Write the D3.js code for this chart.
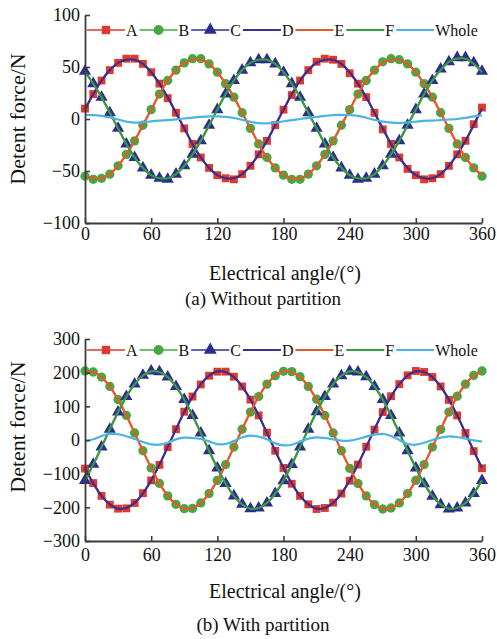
<!DOCTYPE html>
<html>
<head>
<meta charset="utf-8">
<script src="https://cdn.jsdelivr.net/npm/d3@7"></script>
<style>
  html, body { margin: 0; padding: 0; background: #fff; }
  svg { display: block; font-family: "Liberation Serif", "Times New Roman", serif; }
</style>
</head>
<body>
<svg id="chart" width="497" height="639"></svg>
<script>
// Electrical angle samples (degrees)
const angleDeg = [0,7.5,15,22.5,30,37.5,45,52.5,60,67.5,75,82.5,90,97.5,105,112.5,120,127.5,135,142.5,150,157.5,165,172.5,180,187.5,195,202.5,210,217.5,225,232.5,240,247.5,255,262.5,270,277.5,285,292.5,300,307.5,315,322.5,330,337.5,345,352.5,360];

// (a) Without partition — detent force per module (N)
const topA = [10,24,37,47,54,58,58,53,45,34,20,6,-9,-24,-37,-47,-54,-57,-58,-53,-45,-34,-21,-6, 9,23,37,47,55,58,57,53,44,34,21,6,-10,-24,-37,-48,-54,-58,-57,-53,-45,-34,-21,-5, 11];
const topB = [-55,-58,-57,-53,-45,-34,-21,-6,9,24,37,47,54,58,58,53,45,34,21,6,-9,-24,-37,-47, -54,-58,-58,-53,-45,-34,-21,-6,9,24,37,47,55,58,57,53,45,34,21,6,-9,-24,-37,-47, -55];
const topC = [46,34,21,6,-9,-24,-37,-47,-54,-57,-58,-53,-45,-34,-21,-6,9,24,37,47,54,57,57,53, 45,34,21,6,-9,-24,-37,-47,-54,-58,-57,-53,-45,-34,-21,-6,9,24,37,48,55,59,59,54, 46];
const topD = [9,24,37,47,54,57,57,53,45,34,21,6,-9,-24,-37,-47,-54,-57,-57,-53,-45,-34,-21,-6, 9,24,37,47,54,57,57,53,45,34,21,6,-9,-24,-37,-47,-54,-57,-57,-53,-45,-34,-21,-6, 10];
const topE = [-54,-57,-57,-53,-45,-34,-21,-6,9,24,37,47,54,57,57,53,45,34,21,6,-9,-24,-37,-47, -54,-57,-57,-53,-45,-34,-21,-6,9,24,37,47,54,57,57,53,45,34,21,6,-9,-24,-37,-47, -54];
const topF = [45,34,21,6,-9,-24,-37,-47,-54,-57,-57,-53,-45,-34,-21,-6,9,24,37,47,54,57,57,53, 45,34,21,6,-9,-24,-37,-47,-54,-57,-57,-53,-45,-34,-21,-6,9,24,37,47,55,58,58,53, 45];
const topWhole = [4,3.8,3,1.5,-0.5,-2.5,-3.5,-3.2,-2.2,-1.5,-1,-0.3,0.5,1.3,2,2.5,2.5,2,1,-0.8,-2.8,-4,-4.2,-3.5,-2.2,-1,0,1,2,3,3.8,4,3.8,3,1.2,-0.8,-2.5,-3.5,-3.8,-3.2,-2.5,-1.8,-1.5,-1,-0.5,0,1,2.5,3.5];

// (b) With partition — detent force per module (N)
const botA = [-85,-128,-166,-192,-204,-203,-187,-158,-120,-74,-21,32,84,129,165,191,203,203,188,159,120,73,22,-32, -83,-130,-166,-191,-205,-202,-186,-159,-121,-73,-20,31,83,130,166,192,205,202,187,159,119,73,21,-33, -84];
const botB = [205,202,187,159,120,73,21,-32,-83,-129,-166,-191,-204,-203,-187,-159,-120,-73,-21,32,83,129,166,191, 204,203,188,159,121,73,21,-32,-84,-129,-166,-192,-205,-202,-187,-159,-120,-73,-21,31,83,130,166,192, 205];
const botC = [-120,-72,-21,32,83,129,166,192,205,203,187,159,120,73,21,-32,-83,-129,-166,-191,-204,-202,-187,-159, -121,-73,-21,32,84,129,166,191,204,202,188,159,120,73,21,-32,-83,-130,-167,-192,-205,-202,-187,-159, -120];
const botD = [-83,-129,-166,-191,-204,-202,-187,-159,-120,-73,-21,32,83,129,166,191,204,202,187,159,120,73,21,-32, -83,-129,-166,-191,-204,-202,-187,-159,-120,-73,-21,32,83,129,166,191,204,202,187,159,120,73,21,-32, -83];
const botE = [204,202,187,159,120,73,21,-32,-83,-129,-166,-191,-204,-202,-187,-159,-120,-73,-21,32,83,129,166,191, 204,202,187,159,120,73,21,-32,-83,-129,-166,-191,-204,-202,-187,-159,-120,-73,-21,32,83,129,166,191, 204];
const botF = [-120,-73,-21,32,83,129,166,191,204,202,187,159,120,73,21,-32,-83,-129,-166,-191,-204,-202,-187,-159, -120,-73,-21,32,83,129,166,191,204,202,187,159,120,73,21,-32,-83,-129,-166,-191,-204,-202,-187,-159, -120];
const botWhole = [-4,2,12,18,17,11,3,-6,-13,-14,-8,2,7,6,3,-4,-12,-12,-3,8,13,10,2,-10,-16,-14,-5,4,8,6,2,-2,-2,3,10,16,18,12,0,-12,-14,-8,0,7,11,9,4,-1,-5];

// Axis ticks and labels
const xTicks = [0,60,120,180,240,300,360];
const topYTicks = [-100,-50,0,50,100];
const botYTicks = [-300,-200,-100,0,100,200,300];
const seriesNames = ["A","B","C","D","E","F","Whole"];
const xTitle = "Electrical angle/(\u00B0)";
const yTitle = "Detent force/N";
const captions = ["(a) Without partition", "(b) With partition"];

// Series styling
const styles = {
  A:     { color: "#e2392c", symbol: d3.symbolSquare,   size: 62, width: 1.7 },
  B:     { color: "#44a843", symbol: d3.symbolCircle,   size: 68, width: 1.7 },
  C:     { color: "#2b2e8e", symbol: d3.symbolTriangle, size: 64, width: 1.7 },
  D:     { color: "#3a2f8c", symbol: null, width: 2.2 },
  E:     { color: "#e9582b", symbol: null, width: 2.2 },
  F:     { color: "#3c9c3d", symbol: null, width: 2.2 },
  Whole: { color: "#4cb4e4", symbol: null, width: 2.2 }
};

const svg = d3.select("#chart");
const x = d3.scaleLinear().domain([0, 360]).range([85, 482]);

function drawPanel(p) {
  const y = d3.scaleLinear().domain(p.yDomain).range(p.yRange);
  const g = svg.append("g");

  const line = d3.line()
    .x((d, i) => x(angleDeg[i]))
    .y(d => y(d))
    .curve(d3.curveCatmullRom);

  // A, B, C with markers, then the D, E, F lines, then the total
  ["A","B","C"].forEach(k => {
    const s = styles[k];
    g.append("path").datum(p.series[k])
      .attr("fill", "none").attr("stroke", s.color)
      .attr("stroke-width", s.width).attr("d", line);
    g.append("g").selectAll("path").data(p.series[k]).join("path")
      .attr("transform", (d, i) => `translate(${x(angleDeg[i])},${y(d)})`)
      .attr("d", d3.symbol(s.symbol, s.size))
      .attr("fill", s.color);
  });
  ["D","E","F","Whole"].forEach(k => {
    const s = styles[k];
    g.append("path").datum(p.series[k])
      .attr("fill", "none").attr("stroke", s.color)
      .attr("stroke-width", s.width).attr("d", line);
  });

  // Axes
  const axisColor = "#3c3c3c";
  const yAxis = g.append("g")
    .attr("transform", `translate(${x(0)},0)`)
    .call(d3.axisLeft(y).tickValues(p.yTicks).tickSizeInner(-5).tickSizeOuter(0).tickPadding(5));
  const xAxis = g.append("g")
    .attr("transform", `translate(0,${p.yRange[0]})`)
    .call(d3.axisBottom(x).tickValues(xTicks).tickSizeInner(-5).tickSizeOuter(0).tickPadding(p.xPad));
  [yAxis, xAxis].forEach(a => {
    a.select(".domain").attr("stroke", axisColor).attr("stroke-width", 1.8);
    a.selectAll(".tick line").attr("stroke", axisColor).attr("stroke-width", 1.6);
    a.selectAll(".tick text").attr("font-size", 18).attr("fill", "#111")
      .attr("font-family", "Liberation Serif, Times New Roman, serif");
  });

  // Titles
  g.append("text")
    .attr("transform", `translate(25,${p.yTitleY}) rotate(-90)`)
    .attr("text-anchor", "middle").attr("font-size", 22).attr("fill", "#111")
    .text(yTitle);
  g.append("text")
    .attr("x", 285).attr("y", p.xTitleY)
    .attr("text-anchor", "middle").attr("font-size", 20).attr("fill", "#111")
    .text(xTitle);
  g.append("text")
    .attr("x", 263).attr("y", p.captionY)
    .attr("text-anchor", "middle").attr("font-size", 19).attr("fill", "#111")
    .text(p.caption);

  // Legend row
  const lg = g.append("g");
  let lx = 87;
  const ly = p.legendY;
  seriesNames.forEach(k => {
    const s = styles[k];
    lg.append("line")
      .attr("x1", lx).attr("x2", lx + 38).attr("y1", ly).attr("y2", ly)
      .attr("stroke", s.color).attr("stroke-width", s.width);
    if (s.symbol) {
      lg.append("path")
        .attr("transform", `translate(${lx + 19},${ly})`)
        .attr("d", d3.symbol(s.symbol, s.size + 8))
        .attr("fill", s.color);
    }
    const t = lg.append("text")
      .attr("x", lx + 39).attr("y", ly + 5.5)
      .attr("font-size", 16).attr("fill", "#111")
      .text(k);
    lx += 39 + t.node().getComputedTextLength() + 2;
  });
}

drawPanel({
  series: { A: topA, B: topB, C: topC, D: topD, E: topE, F: topF, Whole: topWhole },
  yDomain: [-100, 100], yRange: [223, 15], yTicks: topYTicks,
  xPad: 4, legendY: 30, yTitleY: 119, xTitleY: 280, captionY: 305,
  caption: captions[0]
});
drawPanel({
  series: { A: botA, B: botB, C: botC, D: botD, E: botE, F: botF, Whole: botWhole },
  yDomain: [-300, 300], yRange: [541, 339], yTicks: botYTicks,
  xPad: 7, legendY: 350, yTitleY: 427, xTitleY: 598, captionY: 631,
  caption: captions[1]
});
</script>
</body>
</html>
